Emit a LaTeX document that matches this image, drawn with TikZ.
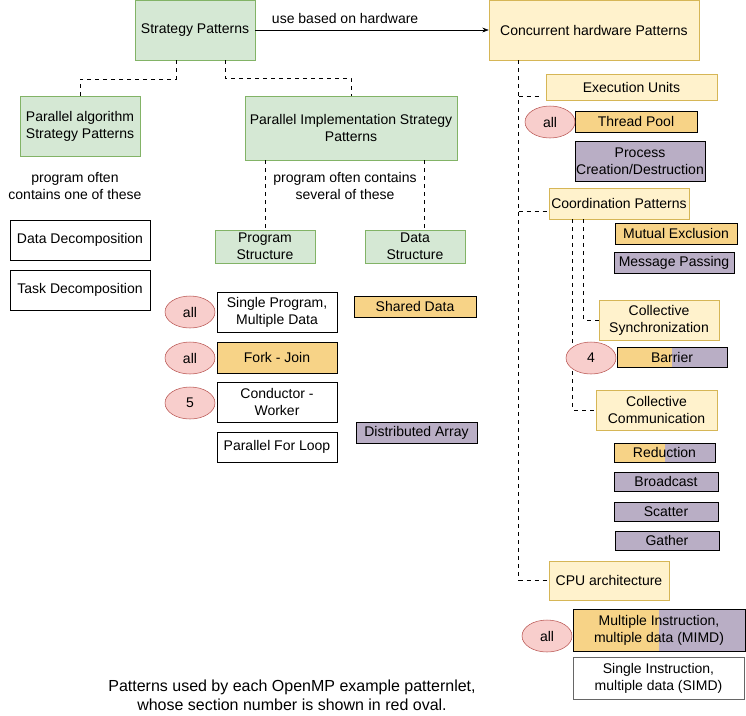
\documentclass[tikz,border=0pt]{standalone}
\usepackage{fontspec}
\setmainfont{Liberation Sans}
\usepackage{tikz}
\usetikzlibrary{positioning,arrows.meta,shapes.geometric,calc}
\definecolor{grfill}{HTML}{D5E8D4}
\definecolor{grline}{HTML}{82B366}
\definecolor{yefill}{HTML}{FFF2CC}
\definecolor{yeline}{HTML}{D6B656}
\definecolor{orfill}{HTML}{F7D387}
\definecolor{pufill}{HTML}{B9AEC5}
\definecolor{rdfill}{HTML}{F8CECC}
\definecolor{rdline}{HTML}{B85450}

\begin{document}
\begin{tikzpicture}[x=0.75pt, y=-0.75pt, >=Stealth,
    font=\fontsize{10.5}{12.75}\selectfont,
    box/.style={rectangle, draw, align=center, inner sep=1pt},
    greenbox/.style={box, draw=grline, fill=grfill},
    yellowbox/.style={box, draw=yeline, fill=yefill},
    orangebox/.style={box, fill=orfill},
    purplebox/.style={box, fill=pufill},
    halfbox/.style={box, fill=pufill, path picture={\fill[orfill] (path picture bounding box.south west) rectangle ($(path picture bounding box.north west)!#1!(path picture bounding box.north east)$);}},
    oval/.style={ellipse, draw=rdline, fill=rdfill, minimum width=37.5pt, minimum height=24pt, inner sep=0pt}]
    \useasboundingbox (0,0) rectangle (746,715);

    \node[greenbox, minimum width=90pt, minimum height=45pt] (strat) at (195,30) {Strategy Patterns};
    \node[yellowbox, minimum width=157.5pt, minimum height=45pt] (conc) at (594,30) {Concurrent hardware Patterns};
    \draw[->] (strat) -- node[pos=0.385, above=1pt] (hwlbl) {use based on hardware} (conc);

    \node[greenbox, minimum width=90pt, minimum height=45pt] (palg) at (80,126) {Parallel algorithm\\Strategy Patterns};
    \node[greenbox, minimum width=159pt, minimum height=48pt] (pimpl) at (351,128) {Parallel Implementation Strategy\\Patterns};
    \draw[dashed] ($(strat.south)+(-19,0)$) -- ++(0,19) -| (palg.north);
    \draw[dashed] ($(strat.south)+(30,0)$) -- ++(0,18) -| (pimpl.north);

    \node[align=center] (onenote) at (75,186) {program often\\contains one of these};
    \node[box, minimum width=105pt, minimum height=30pt] (datad) at (80,240) {Data Decomposition};
    \node[box, minimum width=105pt, minimum height=30pt] (taskd) at (80,290) {Task Decomposition};

    \node[align=center] (sevnote) at (345,186) {program often contains\\several of these};
    \node[greenbox, minimum width=75pt, minimum height=24.75pt] (prog) at (265,246.5) {Program\\Structure};
    \node[greenbox, minimum width=75pt, minimum height=24.75pt] (dstr) at (415,246.5) {Data\\Structure};
    \draw[dashed] (pimpl.south -| prog.north) -- (prog.north);
    \draw[dashed] ($(pimpl.south -| dstr.north)+(9,0)$) -- ($(dstr.north)+(9,0)$);

    \node[box, minimum width=90pt, minimum height=30pt] (spmd) at (277,312) {Single Program,\\Multiple Data};
    \node[orangebox, minimum width=90pt, minimum height=23.25pt] (fork) at (277,357.5) {Fork - Join};
    \node[box, minimum width=90pt, minimum height=30pt] (cond) at (277,402) {Conductor -\\Worker};
    \node[box, minimum width=90pt, minimum height=22.5pt] (pfor) at (277,447) {Parallel For Loop};
    \node[oval] (spmdnum) at (190,312) {all};
    \node[oval] (forknum) at (190,358) {all};
    \node[oval] (condnum) at (190,403) {5};

    \node[orangebox, minimum width=91.5pt, minimum height=15.75pt] (shdata) at (415,306.5) {Shared Data};
    \node[purplebox, minimum width=90.75pt, minimum height=15.75pt] (darr) at (416.5,432.5) {Distributed Array};

    \coordinate (trunk) at ($(conc.south west)+(30,0)$);
    \node[yellowbox, minimum width=128.25pt, minimum height=19.5pt] (exec) at (631.5,87) {Execution Units};
    \node[orangebox, minimum width=91.5pt, minimum height=15.75pt] (tpool) at (636,121.5) {Thread Pool};
    \node[purplebox, minimum width=97.5pt, minimum height=30pt] (proc) at (640,161) {Process\\Creation/Destruction};
    \node[yellowbox, minimum width=105pt, minimum height=23.25pt] (coord) at (619,203.5) {Coordination Patterns};
    \node[orangebox, minimum width=91.5pt, minimum height=15.75pt] (mutex) at (676,233.5) {Mutual Exclusion};
    \node[purplebox, minimum width=90pt, minimum height=15.75pt] (msgp) at (674,262.5) {Message Passing};
    \node[yellowbox, minimum width=90pt, minimum height=30pt] (csync) at (659,320) {Collective\\Synchronization};
    \node[halfbox=0.5, minimum width=82.5pt, minimum height=15pt] (barr) at (672,357) {Barrier};
    \node[yellowbox, minimum width=90.75pt, minimum height=30pt] (ccomm) at (656.5,410) {Collective\\Communication};
    \node[halfbox=0.5, minimum width=75.75pt, minimum height=14.25pt] (redu) at (664.5,452.5) {Reduction};
    \node[purplebox, minimum width=78pt, minimum height=14.25pt] (bcast) at (666,481.5) {Broadcast};
    \node[purplebox, minimum width=78pt, minimum height=14.25pt] (scat) at (666,511.5) {Scatter};
    \node[purplebox, minimum width=78pt, minimum height=14.25pt] (gath) at (667,540.5) {Gather};
    \node[yellowbox, minimum width=90pt, minimum height=29.25pt] (cpu) at (609,580.5) {CPU architecture};
    \node[halfbox=0.5, minimum width=129pt, minimum height=31.5pt] (mimd) at (659,630) {Multiple Instruction,\\multiple data (MIMD)};
    \node[box, draw=black!60, minimum width=128.25pt, minimum height=31.5pt] (simd) at (658.5,678) {Single Instruction,\\multiple data (SIMD)};

    \draw[dashed] (trunk) |- (cpu.west);
    \draw[dashed] (trunk |- 0,96) -- ($(exec.west |- 0,96)+(-6,0)$);
    \draw[dashed] (trunk |- 0,211) -- (coord.west |- 0,211);
    \draw[dashed] ($(coord.south west)+(35,0)$) |- (csync.west);
    \draw[dashed] ($(coord.south west)+(24,0)$) |- (ccomm.west);

    \node[oval] (tpoolnum) at (550,122) {all};
    \node[oval] (barrnum) at (591,358) {4};
    \node[oval] (mimdnum) at (547,636) {all};

    \node[align=center, font=\fontsize{12}{14.25}\selectfont] (caption) at (292,695) {Patterns used by each OpenMP example patternlet,\\whose section number is shown in red oval.};
\end{tikzpicture}
\end{document}
